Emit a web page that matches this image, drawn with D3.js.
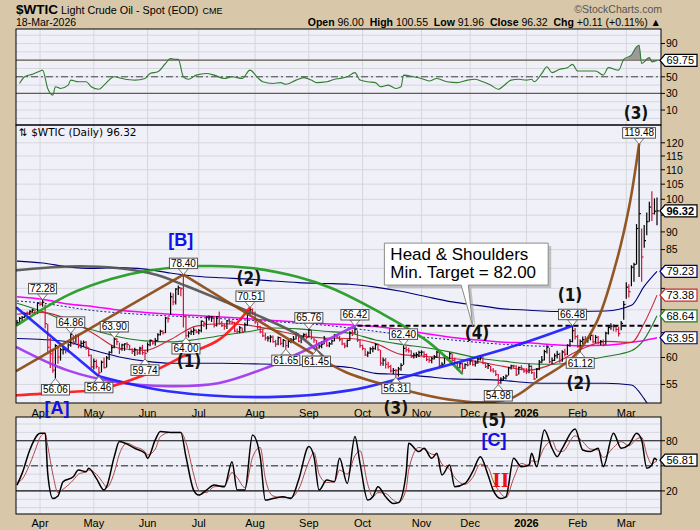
<!DOCTYPE html>
<html><head><meta charset="utf-8">
<script src="https://cdn.jsdelivr.net/npm/d3@7"></script>
<style>body{margin:0;background:#d8c8a9;}svg{display:block;font-family:"Liberation Sans",Arial,sans-serif;}</style>
</head><body><svg id="c" width="700" height="530"></svg>
<script>
// ---------------- DATA ----------------
const holidays = ["2025-04-18","2025-05-26","2025-06-19","2025-07-04","2025-09-01","2025-11-27","2025-12-25","2026-01-01","2026-01-19","2026-02-16"];
const closes = [67.16,68.07,68.28,69.11,69.00,69.65,69.92,69.36,71.48,71.20,
71.71,66.95,61.99,60.70,57.58,62.35,60.07,61.50,61.53,61.33,
62.47,64.68,63.08,64.31,62.27,62.79,63.02,62.05,60.42,58.21,
59.24,58.29,57.13,59.09,58.07,59.91,61.02,61.95,63.67,63.15,
61.62,62.49,62.69,62.56,61.57,61.20,61.53,60.89,61.84,60.94,
60.79,62.52,63.41,62.85,63.37,64.58,65.29,64.98,68.15,68.04,
72.98,71.77,74.84,75.14,74.93,68.51,64.37,64.92,65.24,65.52,
65.11,65.45,67.45,67.00,68.33,68.33,68.38,66.57,68.45,66.98,
66.52,66.38,67.54,67.34,67.20,65.31,65.25,66.03,65.16,66.71,
69.21,70.00,69.26,67.33,66.29,65.16,64.35,63.88,63.88,64.10,
63.17,62.65,63.96,62.80,63.42,62.35,63.21,63.52,63.66,64.80,
63.25,64.15,64.60,64.01,65.59,63.97,63.48,61.87,62.26,62.63,
63.67,62.37,62.69,63.30,64.52,64.05,63.57,62.68,62.28,63.41,
64.99,64.98,65.72,63.45,62.37,61.78,60.48,60.88,61.69,61.73,
62.55,61.51,58.90,59.49,58.70,58.27,57.46,57.54,57.52,57.82,
58.50,61.79,61.50,61.31,60.15,60.48,60.57,60.98,61.05,60.56,
59.60,59.43,59.75,60.13,61.04,58.49,58.69,60.09,59.91,60.74,
59.44,59.00,58.06,58.84,57.95,58.65,58.55,59.32,58.64,58.95,
59.67,60.08,58.88,58.25,58.46,57.60,57.44,56.82,55.27,55.94,
56.15,56.52,58.01,58.38,58.35,56.74,58.08,57.95,57.42,57.32,
58.32,57.13,56.00,57.76,59.12,59.50,61.15,62.02,59.19,59.44,
60.34,60.62,59.36,61.07,60.63,62.39,63.21,65.42,64.20,62.14,
63.21,63.55,63.29,63.90,64.41,63.10,64.02,62.95,63.18,62.48,
64.90,66.10,66.40,66.25,65.70,64.80,67.00,71.20,75.30,74.20,
80.30,81.00,91.00,95.50,83.00,87.50,93.00,97.50,95.50,96.21,
96.32];
const highs = [67.7,68.4,68.6,69.4,69.6,69.9,70.2,70.0,71.6,71.9,
72.28,71.2,66.9,63.9,61.7,62.6,62.1,61.9,62.1,61.8,
62.8,64.86,64.5,64.6,64.8,63.4,63.4,63.3,62.0,60.6,
59.8,59.6,58.2,59.4,60.0,60.3,61.2,62.4,63.90,63.9,
62.9,62.7,62.8,63.0,62.5,61.8,61.9,61.6,62.1,62.5,
61.5,63.0,63.6,63.5,63.9,64.9,65.6,65.5,68.4,68.5,
74.0,73.8,75.0,75.7,75.3,78.40,68.7,65.3,65.7,66.1,
65.7,65.8,67.6,67.5,68.5,68.7,68.6,68.6,68.6,69.6,
67.5,66.9,67.7,68.0,67.6,67.3,65.9,66.4,66.1,67.2,
69.4,70.51,70.3,69.6,67.3,66.5,65.8,65.0,64.3,64.5,
64.4,63.5,64.2,64.1,63.7,63.5,63.5,63.9,64.3,65.2,
64.9,64.3,64.9,64.9,65.76,65.6,63.9,63.5,63.0,63.3,
64.3,63.8,63.1,63.6,64.7,64.7,64.3,63.8,62.9,63.6,
65.3,65.6,66.42,65.5,63.6,62.5,61.8,61.2,62.0,62.2,
62.8,62.7,61.5,60.0,59.9,59.2,58.6,58.0,57.8,58.2,
58.9,62.40,62.2,61.9,61.4,60.9,61.0,61.3,61.4,61.2,
60.8,60.0,60.1,60.5,61.3,61.0,59.1,60.5,60.3,61.0,
60.8,60.0,59.2,59.1,59.0,58.9,59.3,59.7,59.5,59.4,
59.9,60.4,60.2,59.0,58.9,58.4,58.0,57.6,56.9,56.3,
56.5,56.8,58.2,58.6,58.6,58.5,58.3,58.5,58.0,58.0,
58.8,58.5,57.3,58.0,59.5,60.3,61.5,62.4,61.9,60.0,
60.8,61.3,60.9,61.4,61.7,62.6,63.7,66.48,66.0,64.5,
63.6,64.2,64.3,64.1,65.0,64.6,64.5,64.3,63.5,63.6,
65.2,66.5,67.0,66.8,66.6,66.2,67.5,72.0,76.5,76.0,
80.8,81.5,92.3,119.48,91.0,92.0,95.8,99.2,102.6,100.3,
100.55];
const lows = [66.6,66.7,67.5,68.1,68.7,68.8,69.4,68.9,69.0,70.9,
70.7,65.9,61.0,58.0,57.1,56.06,58.8,59.4,60.6,60.8,
61.0,62.1,62.5,62.9,61.8,61.8,62.1,61.5,60.2,57.9,
57.7,57.9,56.46,57.2,57.9,58.1,59.5,60.8,61.8,62.4,
60.7,61.3,61.3,61.8,61.4,60.7,60.3,60.5,60.6,60.5,
59.74,61.0,62.2,62.5,62.3,63.2,64.4,64.6,64.9,67.2,
68.9,71.0,71.2,73.4,73.1,66.1,64.00,64.0,64.5,64.5,
64.9,64.7,65.1,66.2,65.7,67.6,67.3,66.1,66.3,66.7,
66.2,65.6,65.8,66.8,66.8,65.1,64.8,64.9,64.9,65.2,
66.5,68.9,68.9,66.9,65.7,64.9,64.1,63.4,63.2,63.0,
62.9,62.1,62.4,62.4,62.0,61.65,61.9,62.8,62.9,63.6,
63.0,62.8,63.9,63.6,64.0,63.6,62.9,61.45,61.7,61.8,
62.6,62.1,62.0,62.5,63.2,63.8,63.2,62.4,61.8,62.0,
63.3,64.3,64.8,63.1,61.9,61.4,60.3,60.1,60.7,61.0,
61.5,61.3,58.4,58.4,57.9,57.9,57.1,56.9,56.31,56.4,
57.5,58.6,61.0,60.9,59.9,59.8,59.9,60.1,60.4,59.9,
59.3,59.0,58.9,59.6,59.9,58.2,58.2,58.7,59.4,59.6,
59.2,58.7,57.6,57.9,57.2,57.8,58.3,58.6,58.4,58.3,
58.8,59.4,58.7,58.0,57.8,57.3,57.1,56.5,54.98,55.1,
55.6,55.9,56.6,57.7,58.0,56.5,56.8,57.6,57.1,56.9,
57.0,56.9,55.8,56.1,57.6,58.9,59.4,60.8,58.9,58.7,
59.3,59.8,59.0,59.2,60.2,60.5,62.1,63.0,63.6,61.9,
61.12,62.6,62.8,62.9,63.4,62.8,62.9,62.6,62.4,62.2,
62.5,64.6,65.6,65.3,65.2,64.2,65.5,67.8,72.5,72.8,
75.5,76.6,81.0,77.8,76.6,85.5,89.0,93.0,93.2,95.2,
91.96];

// moving averages / bands, read at sample trading days
const maDays    = [0,10,20,30,40,50,60,70,80,90,100,110,120,130,140,150,160,170,180,190,200,210,220,230,240,245,250];
const upperBand = [81.9,81.4,80.4,80.0,80.2,79.8,78.8,78.0,77.6,77.3,76.8,76.4,76.2,76.0,75.3,74.3,73.0,71.8,71.0,70.2,69.9,69.6,69.6,69.7,71.0,75.5,79.23];
const lowerBand = [63.8,63.6,63.1,61.4,60.1,59.3,58.9,58.9,58.9,58.8,58.7,58.6,58.4,58.1,57.0,56.8,56.4,56.0,55.9,55.7,55.3,55.2,55.2,55.2,54.9,52.5,49.0];
const maMagenta = [73.0,72.4,71.3,70.7,69.9,69.4,69.0,68.7,68.4,68.0,67.6,67.3,66.9,66.7,66.3,65.6,64.8,64.0,63.5,63.0,62.9,62.5,62.3,62.4,63.0,63.4,63.95];
const maGreen   = [71.5,69.6,67.2,65.5,64.1,63.3,63.1,63.6,64.4,65.2,66.0,65.8,65.3,64.9,63.5,62.6,61.9,61.0,59.9,59.3,58.8,58.7,59.3,60.2,61.3,63.6,68.64];
const maRed     = [69.0,69.4,67.8,64.8,61.8,61.4,63.6,66.4,66.9,66.6,65.6,64.5,63.9,63.8,62.8,60.6,60.2,59.8,59.2,58.3,57.6,58.9,61.5,63.2,63.0,67.0,73.38];
const dotDays   = [0,10,20,30,40,50,60,70,80,90,100,110,120,130,140,150,160,170,180,190,200,210];
const maDotted  = [72.0,71.5,70.6,69.8,69.3,68.9,68.6,68.3,68.0,67.7,67.4,67.0,66.6,66.0,65.3,64.6,64.0,63.5,63.0,62.6,62.3,62.2];

// RSI (top panel)
const rsiDay = [1,3,6,9,10,12,14,15,17,20,21,24,27,29,32,34,38,41,46,50,52,55,58,60,62,63,65,67,70,74,77,81,84,88,91,94,96,100,103,105,109,112,115,117,121,124,126,129,132,134,137,140,142,145,148,150,151,155,158,161,164,168,172,176,179,182,185,188,190,193,196,199,201,202,205,207,209,212,215,217,219,222,226,229,231,235,237,240,242,243,244,247,248,250];
const rsiVal = [42,50,53,57,58,36,28,38,36,40,46,44,44,38,35,40,50,48,46,48,54,56,66,72,71,71,50,47,52,54,52,48,50,48,58,49,44,42,43,41,46,49,46,43,44,47,48,50,55,46,44,43,38,40,36,38,52,50,48,45,48,44,43,46,47,44,40,35,39,46,47,46,47,44,54,62,55,59,61,65,57,57,57,52,61,58,71,76,86,88,66,73,68,69.75];

// Stochastic (bottom panel)
const stoDay = [0,2,5,8,9,11,12,14,16,18,22,24,27,28,31,34,35,38,40,43,46,50,51,54,56,60,64,66,69,71,74,77,81,84,86,89,92,95,97,100,104,107,110,114,116,118,121,124,126,129,132,134,137,139,141,144,147,149,152,153,157,159,162,164,166,169,171,175,178,181,184,186,189,191,194,197,200,201,203,206,209,211,213,218,221,224,227,229,233,236,239,242,244,246,248,249,250];
const stoK = [27,41,69,87,89,89,41,11,14,31,37,45,43,47,35,21,25,61,79,76,71,65,59,81,91,90,90,61,21,15,21,27,25,55,21,21,87,61,9,11,13,11,33,73,61,21,33,31,59,29,85,53,9,13,25,13,5,6,41,77,67,71,59,65,39,51,25,29,43,61,39,21,11,13,59,49,51,65,49,93,71,61,71,94,69,67,71,49,89,71,75,89,81,47,51,59,56.81];
const stoD = [30,34,52,76,84,89,74,40,18,22,33,40,43,45,40,28,24,42,64,77,73,67,63,70,85,90,90,78,40,21,18,25,26,42,36,24,60,72,35,14,12,12,22,55,66,40,30,31,45,40,62,68,28,13,18,17,9,6,22,45,72,70,64,63,52,46,36,28,36,52,48,32,17,12,35,53,50,56,55,72,80,68,67,86,79,70,69,60,72,79,74,82,84,64,52,54,56];

// pivot value labels
const pivotDays   = [10,21,38,15,32,50,65,66,91,105,114,117,132,151,148,188,217,220,243];
const pivotPrices = [72.28,64.86,63.90,56.06,56.46,59.74,78.40,64.00,70.51,61.65,65.76,61.45,66.42,62.40,56.31,54.98,66.48,61.12,119.48];
const pivotAbove  = [1,1,1,0,0,0,1,0,1,0,1,0,1,1,0,0,1,0,1];

// hand-drawn cycle arcs (trading day, price)
const arcGray   = [[0,79.5],[19.5,80.5],[39,80.1],[54.7,78.3],[66.4,75.5],[79.7,72.2],[96.5,68.1],[109.8,64.5],[119.5,60.25]];
const arcGreen  = [[0,66.6],[19.9,73.4],[36.7,77.3],[52.3,79.5],[71.9,80.6],[91.4,80.1],[109.8,77.8],[122.7,75.1],[141.4,69.5],[160.9,63.0],[173.8,57.0]];
const arcBrownUp   = [[0,57.5],[65,78.40]];
const arcBrownDown = [[65,78.40],[91.4,68.6],[110.9,62.15],[128.5,57.2],[148,54.4],[165.6,52.6],[181.3,51.9],[193,52.6],[203.9,55.8],[217.2,60.06],[226.2,67.0],[234,81.4],[239.1,97.5],[243,119.48]];
const arcRed    = [[0,53.1],[17.2,53.6],[32.8,54.2],[52.3,57.2],[66.4,60.6],[78.5,63.4],[85.5,66.8],[91,70.51]];
const arcBlueDown = [[0,70.4],[32,56.46]];
const arcBlueUp = [[32,56.46],[59,53.8],[98,52.8],[130.5,54.0],[161,57.6],[195,62.4],[217,66.48]];
const arcPurple = [[0,62.0],[19.5,57.6],[39,55.4],[59,54.7],[78.5,55.2],[98,58.15],[110.9,61.0],[122.7,63.9],[132,66.42]];

const necklinePrice = 66.45, necklineStart = 133;
const priceTicks = [55,60,65,70,75,80,85,90,95,100,105,110,115,120];
const rsiTicks = [10,30,50,70,90];
const stoTicks = [20,50,80];

// ---------------- LAYOUT ----------------
const W=700,H=530,L=16,R=661;
const P1={t:29,b:125}, P2={t:125,b:403}, P3={t:417,b:514};
const svg=d3.select("#c");
svg.append("rect").attr("width",W).attr("height",H).attr("fill","#d8c8a9");

const fmt=d3.timeFormat("%Y-%m-%d");
const hol=new Set(holidays);
const days=d3.timeDay.range(new Date(2025,2,19),new Date(2026,2,19)).filter(d=>d.getDay()%6!==0&&!hol.has(fmt(d)));
const N=Math.min(days.length,closes.length,highs.length,lows.length);

const x=d3.scaleLinear().domain([0,250]).range([17,657]);
const yP=d3.scaleLog().domain([51.8,127.1]).range([P2.b,P2.t]);
const yR=d3.scaleLinear().domain([-8,107.5]).range([P1.b,P1.t]);
const yS=d3.scaleLinear().domain([-7.6,108.4]).range([P3.b,P3.t]);

const months=[];
for(let i=1;i<N;i++){ if(days[i].getMonth()!==days[i-1].getMonth()) months.push(i); }

const defs=svg.append("defs");
[["c1",P1],["c2",P2],["c3",P3]].forEach(([id,p])=>defs.append("clipPath").attr("id",id).append("rect").attr("x",L).attr("y",p.t).attr("width",R-L).attr("height",p.b-p.t));

function panel(p,clip,hTicks,yS_){
  svg.append("rect").attr("x",L).attr("y",p.t).attr("width",R-L).attr("height",p.b-p.t).attr("fill","#f0f0f8");
  const g=svg.append("g").attr("clip-path",`url(#${clip})`);
  g.selectAll(".hg").data(hTicks).join("line").attr("x1",L).attr("x2",R).attr("y1",d=>yS_(d)).attr("y2",d=>yS_(d)).attr("stroke","#d6d6dc").attr("stroke-width",1);
  g.selectAll(".vg").data(months).join("line").attr("x1",i=>x(i)).attr("x2",i=>x(i)).attr("y1",p.t).attr("y2",p.b).attr("stroke","#d6d6dc").attr("stroke-width",1);
  return g;
}

// ---- header
const hdr=svg.append("g");
hdr.append("text").attr("x",16).attr("y",13.5).attr("font-size",13.5).attr("font-weight","bold").text("$WTIC");
const sub=hdr.append("text").attr("x",61).attr("y",13.5).attr("font-size",10.8).text("Light Crude Oil - Spot (EOD)");
const subEnd=61+sub.node().getComputedTextLength();
hdr.append("text").attr("x",subEnd+4).attr("y",13.5).attr("font-size",9).text("CME");
hdr.append("text").attr("x",662).attr("y",13).attr("font-size",10.5).attr("fill","#555").attr("text-anchor","end").text("©StockCharts.com");
hdr.append("text").attr("x",16).attr("y",25.5).attr("font-size",10.5).text("18-Mar-2026");
const ohlc=hdr.append("text").attr("x",661).attr("y",25.5).attr("font-size",10.5).attr("text-anchor","end");
[["Open ",1],["96.00  ",0],["High ",1],["100.55  ",0],["Low ",1],["91.96  ",0],["Close ",1],["96.32  ",0],["Chg ",1],["+0.11 (+0.11%) ▲",0]].forEach(([t,b])=>ohlc.append("tspan").attr("font-weight",b?"bold":"normal").attr("xml:space","preserve").text(t));

// ---- RSI panel
const g1=panel(P1,"c1",d3.range(0,101,10),yR);
g1.append("line").attr("x1",L).attr("x2",R).attr("y1",yR(70)).attr("y2",yR(70)).attr("stroke","#6e5a48").attr("stroke-width",1.4);
g1.append("line").attr("x1",L).attr("x2",R).attr("y1",yR(30)).attr("y2",yR(30)).attr("stroke","#6e5a48").attr("stroke-width",1.4);
g1.append("line").attr("x1",L).attr("x2",R).attr("y1",yR(50)).attr("y2",yR(50)).attr("stroke","#444").attr("stroke-dasharray","7,3,2,3");
const rsiPts=rsiDay.map((d,k)=>[d,rsiVal[k]]);
g1.append("path").datum(rsiPts).attr("d",d3.area().x(d=>x(d[0])).y0(yR(70)).y1(d=>yR(Math.max(70,d[1]))).curve(d3.curveMonotoneX)).attr("fill","#8c8c8c").attr("opacity",0.85);
g1.append("path").datum(rsiPts).attr("d",d3.line().x(d=>x(d[0])).y(d=>yR(d[1])).curve(d3.curveMonotoneX)).attr("fill","none").attr("stroke","#2f7d2f").attr("stroke-width",1.1);

// ---- Main panel
const g2=panel(P2,"c2",priceTicks,yP);
const lineP=d3.line().x(d=>x(d[0])).y(d=>yP(d[1])).curve(d3.curveMonotoneX);
function maLine(daysArr,vals,color,w,dash){
  g2.append("path").datum(daysArr.map((d,k)=>[d,vals[k]])).attr("d",lineP).attr("fill","none").attr("stroke",color).attr("stroke-width",w).attr("stroke-dasharray",dash||null);
}
maLine(maDays,upperBand,"#00007a",1.1);
maLine(maDays,lowerBand,"#00007a",1.1);
maLine(dotDays,maDotted,"#1a1a9a",1,"2,2");
maLine(maDays,maMagenta,"#ff00ff",1.5);
maLine(maDays,maGreen,"#207a20",1.1);
maLine(maDays,maRed,"#c82a3a",1.1);

// bars
const bars=d3.range(N).map(i=>({i,h:highs[i],l:lows[i],c:closes[i],up:i===0||closes[i]>=closes[i-1]}));
const bg=g2.append("g");
bg.selectAll("line.hl").data(bars).join("line").attr("x1",d=>x(d.i)).attr("x2",d=>x(d.i)).attr("y1",d=>yP(d.h)).attr("y2",d=>yP(d.l)).attr("stroke",d=>d.up?"#000":"#d4143c").attr("stroke-width",1.2);
bg.selectAll("line.cl").data(bars).join("line").attr("x1",d=>x(d.i)).attr("x2",d=>x(d.i)+1.8).attr("y1",d=>yP(d.c)).attr("y2",d=>yP(d.c)).attr("stroke",d=>d.up?"#000":"#d4143c").attr("stroke-width",1.2);

// neckline
g2.append("line").attr("x1",x(necklineStart)).attr("x2",R).attr("y1",yP(necklinePrice)).attr("y2",yP(necklinePrice)).attr("stroke","#000").attr("stroke-width",2).attr("stroke-dasharray","5,3");

// arcs
const arcLine=d3.line().x(d=>x(d[0])).y(d=>yP(d[1])).curve(d3.curveCatmullRom.alpha(0.5));
const straight=d3.line().x(d=>x(d[0])).y(d=>yP(d[1]));
function arc(pts,color,gen){ g2.append("path").datum(pts).attr("d",gen||arcLine).attr("fill","none").attr("stroke",color).attr("stroke-width",2.6).attr("stroke-linecap","round").attr("opacity",0.92); }
arc(arcGray,"#555555");
arc(arcGreen,"#1f9a1f");
arc(arcPurple,"#a035f0");
arc(arcBlueDown,"#1c1cff",straight);
arc(arcBlueUp,"#1c1cff");
arc(arcRed,"#ff1414");
arc(arcBrownUp,"#8b4a14",straight);
arc(arcBrownDown,"#8b4a14");

// pivot labels
const pl=svg.append("g");
pivotDays.forEach((d,k)=>{
  const px=x(d),py=yP(pivotPrices[k]),up=pivotAbove[k];
  const g=pl.append("g");
  const t=g.append("text").attr("font-size",10).attr("text-anchor","middle").text(pivotPrices[k].toFixed(2));
  const w=t.node().getComputedTextLength()+3, bh=10.5;
  const vy=up?py-6:py+6, by=up?vy-bh:vy;
  g.insert("path","text").attr("d",`M${px-5},${vy}L${px},${py}L${px+5},${vy}Z`).attr("fill","#fff").attr("stroke","#666").attr("stroke-width",0.9);
  g.insert("rect","text").attr("x",px-w/2).attr("y",by).attr("width",w).attr("height",bh).attr("fill","#fff").attr("stroke","#444").attr("stroke-width",0.9);
  t.attr("x",px).attr("y",by+bh-1.7);
});

// Head & Shoulders callout
const hs=svg.append("g");
const bx0=x(143.5),bx1=x(207.5),by0=yP(86.8),by1=yP(75.8),tl=x(173.5),tr=x(176.3),tipX=x(178),tipY=yP(necklinePrice);
const hsPath=`M${bx0},${by0}L${bx1},${by0}L${bx1},${by1}L${tr},${by1}L${tipX},${tipY}L${tl},${by1}L${bx0},${by1}Z`;
hs.append("path").attr("d",hsPath).attr("transform","translate(3,3)").attr("fill","#9a9a9a").attr("opacity",0.55);
hs.append("path").attr("d",hsPath).attr("fill","#fff").attr("stroke","#8a8a8a").attr("stroke-width",1);
hs.append("text").attr("x",bx0+6).attr("y",yP(82.2)).attr("font-size",17).text("Head & Shoulders");
hs.append("text").attr("x",bx0+6).attr("y",yP(77.5)).attr("font-size",17).text("Min. Target = 82.00");

// panel title
svg.append("text").attr("x",19).attr("y",135.5).attr("font-size",10.5).attr("font-family","DejaVu Sans").text("⇅ $WTIC (Daily) 96.32");

// ---- Stochastic panel
const g3=panel(P3,"c3",d3.range(0,101,10),yS);
[20,80].forEach(v=>g3.append("line").attr("x1",L).attr("x2",R).attr("y1",yS(v)).attr("y2",yS(v)).attr("stroke","#111").attr("stroke-width",1.2));
g3.append("line").attr("x1",L).attr("x2",R).attr("y1",yS(50)).attr("y2",yS(50)).attr("stroke","#222").attr("stroke-dasharray","7,3,2,3");
const lineS=d3.line().x(d=>x(d[0])).y(d=>yS(d[1])).curve(d3.curveMonotoneX);
g3.append("path").datum(stoDay.map((d,k)=>[d,stoD[k]])).attr("d",lineS).attr("fill","none").attr("stroke","#b04848").attr("stroke-width",1);
g3.append("path").datum(stoDay.map((d,k)=>[d,stoK[k]])).attr("d",lineS).attr("fill","none").attr("stroke","#000").attr("stroke-width",1.5);

// borders
[P1,P2,P3].forEach(p=>svg.append("rect").attr("x",L).attr("y",p.t).attr("width",R-L).attr("height",p.b-p.t).attr("fill","none").attr("stroke","#000").attr("stroke-width",1));

// x-axis labels
function xLabels(yy){
  svg.append("g").selectAll("text").data(months).join("text").attr("x",i=>x(i)).attr("y",yy).attr("text-anchor","middle").attr("font-size",11)
    .attr("font-weight",i=>days[i].getMonth()===0?"bold":"normal").text(i=>days[i].getMonth()===0?String(days[i].getFullYear()):d3.timeFormat("%b")(days[i]));
}
xLabels(P2.b+13.5); xLabels(P3.b+13);

// right-edge value tags, tick labels skip where a tag sits
const tags=[
  {y:yR(69.75),t:"69.75",c:"#000"},
  {y:yP(96.32),t:"96.32",c:"#000",b:true},
  {y:yP(79.23),t:"79.23",c:"#00007a"},
  {y:yP(73.38),t:"73.38",c:"#c82a3a"},
  {y:yP(68.64),t:"68.64",c:"#207a20"},
  {y:yP(63.95),t:"63.95",c:"#00007a"},
  {y:yS(56.81),t:"56.81",c:"#000"}
];
function rAxis(ticks,sc){
  const g=svg.append("g");
  ticks.forEach(v=>{
    const yy=sc(v);
    g.append("line").attr("x1",R).attr("x2",R+4).attr("y1",yy).attr("y2",yy).attr("stroke","#000");
    if(tags.some(tg=>Math.abs(tg.y-yy)<11.5)) return;
    g.append("text").attr("x",R+5).attr("y",yy+3.8).attr("font-size",10.5).text(v);
  });
}
rAxis(priceTicks,yP); rAxis(rsiTicks,yR); rAxis(stoTicks,yS);

tags.forEach(tg=>{
  const g=svg.append("g"), yy=tg.y;
  g.append("path").attr("d",`M${R-1},${yy}L${R+4},${yy-6}L${R+36},${yy-6}L${R+36},${yy+6}L${R+4},${yy+6}Z`).attr("fill","#fff").attr("stroke",tg.c).attr("stroke-width",1.2);
  g.append("text").attr("x",R+5.5).attr("y",yy+4).attr("font-size",11).attr("font-weight",tg.b?"bold":"normal").text(tg.t);
});

// wave annotations
const waveFont='"Liberation Sans Narrow","DejaVu Sans Condensed","Liberation Sans",Arial';
function wave(t,xx,yy,color,size,fam){
  svg.append("text").attr("x",xx).attr("y",yy).attr("text-anchor","middle").attr("dominant-baseline","central")
    .attr("font-size",size||17).attr("font-weight","bold").attr("font-family",fam||waveFont).attr("fill",color||"#111").text(t);
}
wave("(3)",x(241.8),yR(6.4));
wave("[B]",x(64),yP(87.6),"#1010e8",18,"Liberation Sans");
wave("(2)",x(90.6),yP(77.5));
wave("(1)",x(67.2),yP(59.3));
wave("(4)",x(179.7),yP(64.9));
wave("(1)",x(216),yP(73.4));
wave("(2)",x(219.5),yP(55.2));
wave("(3)",x(148),yP(50.9));
wave("(5)",x(186.3),yP(49.0));
wave("[A]",x(15.6),yP(50.9),"#1010e8",18,"Liberation Sans");
wave("[C]",x(186.3),yS(81.2),"#1010e8",18,"Liberation Sans");
wave("II",x(189),yS(33.3),"#ee1111",22,"Liberation Serif");
</script></body></html>
